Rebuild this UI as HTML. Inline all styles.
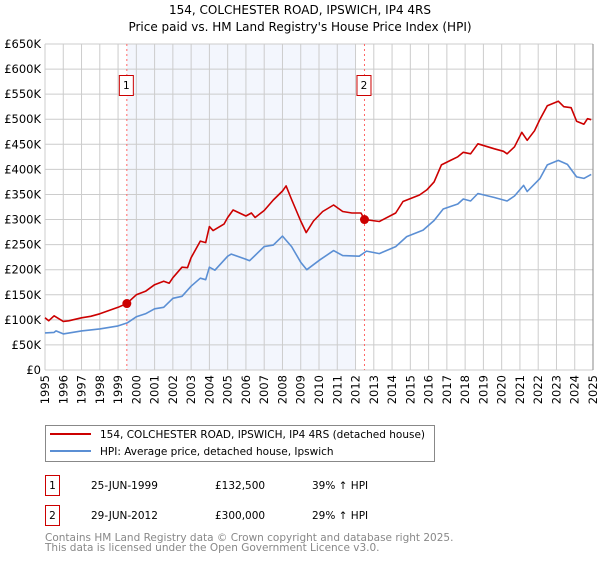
<!DOCTYPE html>
<html><head><meta charset="utf-8"><style>
body{margin:0;background:#fff;width:600px;height:560px;overflow:hidden;font-family:"DejaVu Sans","Liberation Sans",sans-serif}
svg text{font-family:"DejaVu Sans","Liberation Sans",sans-serif}
</style></head><body>
<svg id="c" width="600" height="560" xmlns="http://www.w3.org/2000/svg">
<text x="300" y="14" text-anchor="middle" font-size="12">154, COLCHESTER ROAD, IPSWICH, IP4 4RS</text>
<text x="300" y="31" text-anchor="middle" font-size="12">Price paid vs. HM Land Registry's House Price Index (HPI)</text>
<g id="plot"></g>
<g>
<rect x="45.5" y="425.5" width="389" height="36" fill="#fff" stroke="#888"/>
<line x1="50" y1="434" x2="91" y2="434" stroke="#cc0000" stroke-width="2"/>
<text x="100" y="438" font-size="10.5">154, COLCHESTER ROAD, IPSWICH, IP4 4RS (detached house)</text>
<line x1="50" y1="451" x2="91" y2="451" stroke="#5b8fd4" stroke-width="2"/>
<text x="100" y="455" font-size="10.5">HPI: Average price, detached house, Ipswich</text>
</g>
<g font-size="10.5">
<rect x="45.5" y="475.5" width="14" height="20" fill="#fff" stroke="#cc0000"/>
<text x="52.5" y="489" text-anchor="middle">1</text>
<text x="91" y="489">25-JUN-1999</text>
<text x="215" y="489">£132,500</text>
<text x="312" y="489">39% ↑ HPI</text>
<rect x="45.5" y="505.5" width="14" height="20" fill="#fff" stroke="#cc0000"/>
<text x="52.5" y="519" text-anchor="middle">2</text>
<text x="91" y="519">29-JUN-2012</text>
<text x="215" y="519">£300,000</text>
<text x="312" y="519">29% ↑ HPI</text>
</g>
<text x="45" y="541" font-size="10.5" fill="#888">Contains HM Land Registry data © Crown copyright and database right 2025.</text>
<text x="45" y="551" font-size="10.5" fill="#888">This data is licensed under the Open Government Licence v3.0.</text>
</svg>
<script>
const hpiYears=[1995,1995.5,1995.6,1996,1997,1998,1999,1999.5,2000,2000.5,2001,2001.5,2002,2002.5,2003,2003.5,2003.8,2004,2004.3,2005,2005.2,2006,2006.2,2007,2007.5,2008,2008.5,2009,2009.33,2010.06,2010.8,2011.3,2012.2,2012.6,2013.3,2014.2,2014.8,2015.7,2016.3,2016.8,2017.6,2017.9,2018.3,2018.7,2019.6,2020.3,2020.7,2021.2,2021.4,2022.1,2022.5,2023.1,2023.6,2024.1,2024.5,2024.9];
const hpiValues=[74,75,78,72,78,82,88,94,106,112,122,125,143,147,167,183,180,205,199,227,231,221,218,246,249,267,246,215,200,220,238,228,227,237,232,246,266,279,298,321,331,341,337,352,344,337,347,368,356,382,409,418,410,385,382,390];
const priceYears=[1995,1995.2,1995.5,1996,1996.3,1997,1997.5,1998,1999,1999.48,2000,2000.5,2001,2001.5,2001.8,2002,2002.5,2002.8,2003,2003.5,2003.8,2004,2004.2,2004.8,2005,2005.3,2006,2006.3,2006.5,2007,2007.5,2008,2008.2,2008.5,2009,2009.3,2009.7,2010.2,2010.8,2011.3,2011.8,2012.3,2012.49,2013.3,2014.2,2014.6,2015.5,2015.9,2016.3,2016.7,2017.2,2017.6,2017.9,2018.3,2018.7,2019.6,2020.1,2020.3,2020.7,2021.1,2021.4,2021.8,2022.1,2022.5,2023.1,2023.4,2023.8,2024.1,2024.5,2024.7,2024.9];
const priceValues=[104,98,108,97,98,104,107,112,125,132.5,150,157,170,177,173,184,205,204,224,257,254,286,278,291,304,319,307,313,304,318,339,357,367,340,297,274,297,316,329,316,313,313,300,296,313,336,349,359,375,409,418,425,434,431,451,441,436,431,445,474,458,477,500,527,536,525,523,496,490,501,499];
const saleYears=[1999.48,2012.49];
const saleValues=[132.5,300];
const saleLabels=["1","2"];
const yTicks=[0,50,100,150,200,250,300,350,400,450,500,550,600,650];
const yTickLabels=["£0","£50K","£100K","£150K","£200K","£250K","£300K","£350K","£400K","£450K","£500K","£550K","£600K","£650K"];
const xTicks=[1995,1996,1997,1998,1999,2000,2001,2002,2003,2004,2005,2006,2007,2008,2009,2010,2011,2012,2013,2014,2015,2016,2017,2018,2019,2020,2021,2022,2023,2024,2025];
const shadeRange=[1999.48,2012.0];

const L=45,R=593,T=44,B=370;
const X=y=>L+(y-1995)/30*(R-L);
const Y=v=>B-v/650*(B-T);
const ns="http://www.w3.org/2000/svg";
const g=document.getElementById('plot');
function mk(t,a){const e=document.createElementNS(ns,t);for(const k in a)e.setAttribute(k,a[k]);g.appendChild(e);return e;}
let e=mk('rect',{x:X(shadeRange[0]),y:T,width:X(shadeRange[1])-X(shadeRange[0]),height:B-T,fill:'#f3f6fd'});


yTicks.forEach((v,i)=>{
 let l=mk('line',{x1:L,x2:R,y1:Y(v),y2:Y(v),stroke:'#ccc','stroke-width':1});
 
 
 let t=mk('text',{x:L-4,y:Y(v)+4,'text-anchor':'end','font-size':'11.5'});t.textContent=yTickLabels[i];
 
 
});
xTicks.forEach(v=>{
 let l=mk('line',{x1:X(v),x2:X(v),y1:T,y2:B,stroke:'#ccc','stroke-width':1});
 
 
 let t=mk('text',{x:0,y:0,'text-anchor':'end','font-size':'11.5',transform:`translate(${X(v)+4},${B+5}) rotate(-90)`});t.textContent=v;
 
 
});
e=mk('line',{x1:R,x2:R,y1:T,y2:B,stroke:'#888'});


saleYears.forEach((s,i)=>{
 let l=mk('line',{x1:X(s),x2:X(s),y1:T,y2:B,stroke:'#ff6666','stroke-dasharray':'2,3'});
 
 
 let r=mk('rect',{x:X(s)-7.5,y:75.5,width:14,height:20,fill:'#fff',stroke:'#cc0000'});
 
 
 let t=mk('text',{x:X(s)-0.5,y:89,'text-anchor':'middle','font-size':'10.5'});t.textContent=saleLabels[i];
 
 
});
function line(xs,vs,col,name){
 const p=mk('path',{d:xs.map((x,i)=>(i?'L':'M')+X(x).toFixed(1)+','+Y(vs[i]).toFixed(1)).join(''),fill:'none',stroke:col,'stroke-width':1.6,'stroke-linejoin':'round'});
 
 
}
line(hpiYears,hpiValues,'#5b8fd4','hpi-line');
line(priceYears,priceValues,'#cc0000','price-paid-line');
saleYears.forEach((s,i)=>{
 let c=mk('circle',{cx:X(s),cy:Y(saleValues[i]),r:4.5,fill:'#cc0000'});
 
 
});
</script>
</body></html>
